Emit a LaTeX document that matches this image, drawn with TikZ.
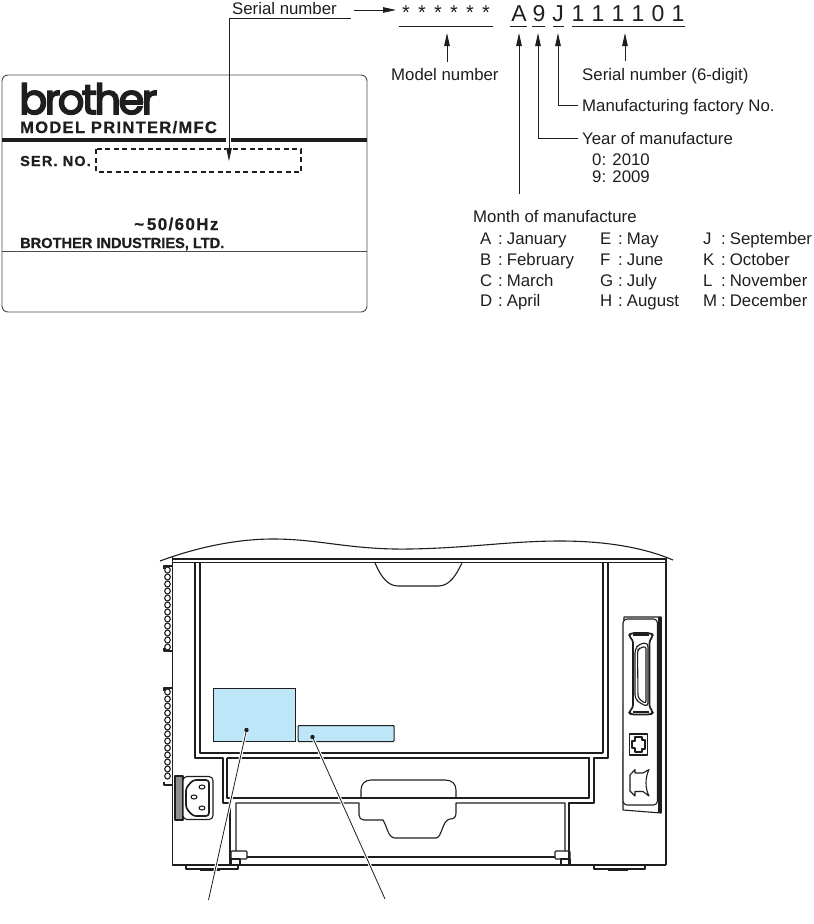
\documentclass[tikz,border=0pt]{standalone}
\usepackage{fontspec}
\usepackage{xcolor}
\usetikzlibrary{arrows.meta, positioning, calc}
\setmainfont{Liberation Sans}
\newfontfamily\logofont[LetterSpace=-6,FakeBold=4]{Poppins}
\newfontfamily\platefont[LetterSpace=8,FakeBold=0.8]{Liberation Sans}
\newfontfamily\makerfont[FakeBold=0.8]{Liberation Sans}
\definecolor{labelblue}{RGB}{190, 230, 249}
\definecolor{inkblack}{RGB}{30, 30, 30}
\tikzstyle{txt} = [
    anchor=base west,
    inner sep=0pt,
    text=inkblack,
    font=\fontsize{16.8}{18}\selectfont
]
\tikzstyle{code} = [
    anchor=base,
    inner sep=0pt,
    text=inkblack,
    font=\fontsize{23}{25}\selectfont
]
\tikzstyle{plate} = [
    anchor=base west,
    inner sep=0pt,
    text=inkblack,
    font=\platefont\bfseries\fontsize{16.5}{18}\selectfont
]
\tikzstyle{arrow} = [
    line width=0.9pt,
    -{Triangle[length=13pt,width=5.5pt]},
    color=inkblack
]
\tikzstyle{bar} = [line width=0.9pt, color=inkblack]
\tikzstyle{body} = [line width=1.1pt, color=inkblack, line join=round]
\tikzstyle{thickbody} = [line width=1.7pt, color=inkblack, line join=round]
\tikzstyle{sticker} = [draw=inkblack, line width=1.1pt, fill=labelblue]
\tikzstyle{leader} = [line width=0.8pt, color=inkblack]
\tikzstyle{halo} = [line width=3pt, color=white]

\begin{document}
\begin{tikzpicture}[x=1pt, y=-1pt]
        \useasboundingbox (0,0) rectangle (814,924);

        % Rating plate
        \draw[line width=0.9pt, draw=inkblack!80, rounded corners=6pt] (2,75) rectangle (367,312);
        \draw[line width=3.2pt, color=inkblack] (2,140) -- (367,140);
        \draw[line width=0.9pt, color=inkblack!80] (2,251) -- (367,251);
        \draw[line width=1.6pt, dash pattern=on 5pt off 3.5pt, color=inkblack] (96,149) rectangle (301,172);
        \node[anchor=base west, inner sep=0pt, text=inkblack, font=\logofont\fontsize{41.5}{44}\selectfont] (logo) at (19,114) {brother};
        \node[plate] (platemodel) at (20,133) {MODEL PRINTER/MFC};
        \node[plate, font=\platefont\bfseries\fontsize{14.5}{16}\selectfont] (plateser) at (20,166) {SER. NO.};
        \node[plate, font=\platefont\bfseries\fontsize{17}{19}\selectfont] (platehz) at (134,230) {\textasciitilde\,50/60Hz};
        \node[plate, font=\makerfont\bfseries\fontsize{14.6}{16}\selectfont] (platemaker) at (20,248) {BROTHER INDUSTRIES, LTD.};

        % Number code
        \node[txt] (sertext) at (232,14) {Serial number};
        \foreach \x [count=\n] in {406,422,438,454,470,486}
            \node[code, font=\fontsize{20}{22}\selectfont] (star\n) at (\x,19) {*};
        \node[code] (codeA) at (519,21) {A};
        \node[code] (code9) at (539,21) {9};
        \node[code] (codeJ) at (558,21) {J};
        \foreach \d/\x [count=\n] in {1/578,1/598,1/618,1/638,0/658,1/678}
            \node[code] (digit\n) at (\x,21) {\d};
        \draw[bar] (399,26) -- (493,26);
        \draw[bar] (510,26) -- (527,26);
        \draw[bar] (532,26) -- (545,26);
        \draw[bar] (553,26) -- (564,26);
        \draw[bar] (572,26) -- (685,26);

        % Labels
        \node[txt] (modeltext) at (391,80) {Model number};
        \node[txt] (digittext) at (582,80) {Serial number (6-digit)};
        \node[txt] (factorytext) at (582,111) {Manufacturing factory No.};
        \node[txt] (yeartext) at (582,144) {Year of manufacture};
        \node[txt] (year0) at (592,165) {0: 2010};
        \node[txt] (year9) at (592,182) {9: 2009};
        \node[txt] (monthtext) at (473,222) {Month of manufacture};
        \foreach \ltr/\mon/\x/\y in {A/January/480/244, B/February/480/265, C/March/480/286, D/April/480/306,
                                     E/May/600/244, F/June/600/265, G/July/600/286, H/August/600/306,
                                     J/September/703/244, K/October/703/265, L/November/703/286, M/December/703/306}
            \node[txt] (month\ltr) at (\x,\y) {\makebox[18pt][l]{\ltr}:\hspace{4pt}\mon};

        % Arrows
        \coordinate (sertail) at (351,18);
        \coordinate (serhead) at (229,161);
        \coordinate (codetail) at (354,10);
        \coordinate (codehead) at (396,10);
        \coordinate (modeltail) at (447,62);
        \coordinate (modelhead) at (447,33);
        \coordinate (monthtail) at (519,194);
        \coordinate (monthhead) at (519,33);
        \coordinate (yeartail) at (578,138);
        \coordinate (yearhead) at (538,33);
        \coordinate (factorytail) at (578,105);
        \coordinate (factoryhead) at (558,33);
        \coordinate (digittail) at (625,61);
        \coordinate (digithead) at (625,33);
        \draw[white, line width=5pt] (228,130) -- (228,152);
        \draw[arrow] (sertail) -| (serhead);
        \draw[arrow] (codetail) -- (codehead);
        \draw[arrow] (modeltail) -- (modelhead);
        \draw[arrow] (monthtail) -- (monthhead);
        \draw[arrow] (yeartail) -| (yearhead);
        \draw[arrow] (factorytail) -| (factoryhead);
        \draw[arrow] (digittail) -- (digithead);

        % Printer body
        \draw[body] (160,561) .. controls (195,548) and (235,539) .. (273,539)
            .. controls (320,539) and (350,550) .. (410,549)
            .. controls (470,548) and (510,541) .. (560,541)
            .. controls (600,541) and (640,546) .. (673,560);
        \draw[body] (172.5,557) -- (172.5,865) -- (666,865);
        \draw[thickbody] (666,865) -- (666,558);
        \draw[body] (172.5,559) -- (666,559);
        \draw[body] (172.5,562.5) -- (666,562.5);

        % Cover
        \draw[body] (195,562) -- (195,758) -- (223,758) -- (223,803) -- (230,803) -- (230,865);
        \draw[body] (608,562) -- (608,758) -- (594,758) -- (594,803) -- (569,803) -- (569,865);
        \draw[thickbody] (200,562) -- (200,753) -- (603,753);
        \draw[body] (603,753) -- (603,562);
        \draw[body] (227,758) -- (590,758);
        \draw[body] (227,758) -- (227,798) -- (589,798) -- (589,758);
        \draw[body] (375,563) .. controls (381,577) and (388,586) .. (398,586)
            -- (438,586) .. controls (450,586) and (456,575) .. (462,563);

        % Tray
        \draw[body] (361,798) -- (361,790) .. controls (361,784) and (365,780) .. (371,780)
            -- (445,780) .. controls (452,780) and (456,784) .. (456,790) -- (456,798);
        \draw[body] (236,851) -- (236,803) -- (359,803) -- (359,815)
            .. controls (359,818) and (361,820) .. (364,820) -- (383,820)
            .. controls (387,826) and (388,838) .. (395,838) -- (436,838)
            .. controls (442,838) and (442,820) .. (450,819) .. controls (454,819) and (456,817) .. (456,813)
            -- (456,803) -- (565,803) -- (565,851);
        \draw[body] (247,857) -- (555,857);
        \draw[body, rounded corners=1pt] (231,851) rectangle (247,859);
        \draw[body] (231,859) rectangle (240,865);
        \draw[body, rounded corners=1pt] (555,851) rectangle (570,859);
        \draw[body] (561,859) rectangle (570,865);

        % Feet
        \draw[body] (186,865) -- (186,869) -- (238,869) -- (238,865);
        \draw[body] (594,865) -- (594,869) -- (645,869) -- (645,865);
        \fill[inkblack] (200,868) rectangle (220,870.5);
        \fill[inkblack] (608,868) rectangle (628,870.5);

        % Vents
        \foreach \y in {570,577,...,647}
            \draw[line width=1.1pt, color=inkblack] (167.5,\y) ellipse (2.8 and 3);
        \foreach \y in {692,699,...,781}
            \draw[line width=1.1pt, color=inkblack] (167.5,\y) ellipse (2.8 and 3);
        \draw[body] (172,566) -- (164,566) -- (164,569) (172,651) -- (164,651) -- (164,648)
            (172,688) -- (164,688) -- (164,691) (172,785) -- (164,785) -- (164,782);

        % Power inlet
        \fill[inkblack!50] (175,776) rectangle (183,820);
        \draw[body] (175,776) rectangle (183,820);
        \draw[body, rounded corners=4pt, fill=white] (183,776.5) rectangle (213,819.5);
        \draw[thickbody, rounded corners=3pt] (193,780) -- (209,780) -- (209,816) -- (193,816) -- (186,808) -- (186,788) -- cycle;
        \draw[body] (202,787) ellipse (3 and 2);
        \draw[body] (194,797) ellipse (3 and 2);
        \draw[body] (202,808) ellipse (3 and 2);

        % Interface panel
        \draw[body, fill=white] (624,617) -- (661,617) -- (661,813) -- (623,810) -- cycle;
        \fill[inkblack] (658,617) rectangle (662,813);
        \draw[body, fill=white, rounded corners=4pt] (623,619) rectangle (657.5,805);
        \draw[thickbody, rounded corners=3pt] (631,633) -- (651,633) -- (653.5,636) -- (649.5,640) -- (649.5,708) -- (653.5,712) -- (651,714.5) -- (631,714.5) -- (628.5,712) -- (633,708) -- (633,640) -- (628.5,636) -- cycle;
        \draw[body, rounded corners=4pt] (639,644) -- (648,642.5) -- (648,707) -- (640,703) -- (635,699) -- (635,649) -- cycle;
        \draw[body, rounded corners=3pt] (640,648) -- (646,646) -- (646,704) -- (638,698) -- (637.5,650) -- cycle;
        \draw[body] (633,635) -- (649,635) (633,712) -- (649,712);
        \draw[thickbody] (629.5,734) rectangle (647.5,755);
        \draw[body] (635,737) -- (642,737) -- (642,740) -- (645,740) -- (645,749) -- (642,749) -- (642,752) -- (635,752) -- (635,748) -- (632,748) -- (632,741) -- (635,741) -- cycle;
        \draw[body] (630,775) -- (635,769.5) -- (635,773) -- (643,773) -- (649,769.5)
            .. controls (645,778) and (645,788) .. (649,796)
            -- (643,791.5) -- (635,791.5) -- (635,796) -- (630,791) -- cycle;

        % Stickers
        \node[sticker, anchor=north west, minimum width=82pt, minimum height=53pt, inner sep=0pt] (stickerA) at (212.5,688) {};
        \node[sticker, anchor=north west, minimum width=96pt, minimum height=16pt, inner sep=0pt, rounded corners=1pt] (stickerB) at (297.5,725) {};

        % Leaders
        \coordinate (leadA) at (246.5,730);
        \coordinate (leadB) at (312.5,737);
        \coordinate (endA) at (208.5,900);
        \coordinate (endB) at (385,899);
        \draw[halo] (leadA) -- (endA);
        \draw[halo] (leadB) -- (endB);
        \draw[leader] (leadA) -- (endA);
        \draw[leader] (leadB) -- (endB);
        \fill[inkblack] (leadA) circle (2.2);
        \fill[inkblack] (leadB) circle (2.2);
    \end{tikzpicture}
\end{document}
